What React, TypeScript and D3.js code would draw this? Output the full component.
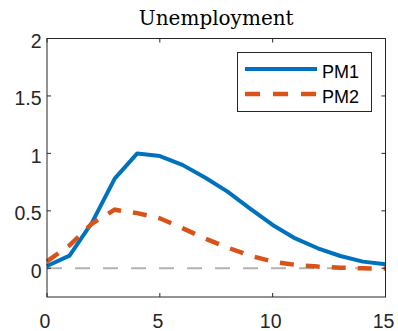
import React from "react";
import * as d3 from "d3";

const periods = [0, 1, 2, 3, 4, 5, 6, 7, 8, 9, 10, 11, 12, 13, 14, 15];
const pm1 = [0.02, 0.11, 0.4, 0.78, 1.0, 0.977, 0.9, 0.79, 0.667, 0.52, 0.377, 0.26, 0.174, 0.107, 0.058, 0.035];
const pm2 = [0.06, 0.2, 0.39, 0.51, 0.48, 0.435, 0.35, 0.26, 0.18, 0.11, 0.058, 0.03, 0.015, 0.005, 0.0, -0.003];
const xTicks = [0, 5, 10, 15];
const yTicks = [0, 0.5, 1, 1.5, 2];
const seriesNames = ["PM1", "PM2"];

const W = 398;
const H = 331;
const m = { left: 47, right: 385.5, top: 38.5, bottom: 297 };

export default function App() {
  const x = d3.scaleLinear().domain([0, 15]).range([m.left, m.right]);
  const y = d3.scaleLinear().domain([-0.25, 2]).range([m.bottom, m.top]);
  const line = d3
    .line<number>()
    .x((_, i) => x(periods[i]))
    .y((d) => y(d));

  const axisColor = "#262626";
  const font = "'Liberation Sans', Arial, sans-serif";

  return (
    <svg
      width={W}
      height={H}
      style={{ position: "absolute", left: 0, top: 0, background: "#fff" }}
    >
      <text
        x={(m.left + m.right) / 2}
        y={25}
        textAnchor="middle"
        fontFamily="'DejaVu Serif', 'Liberation Serif', serif"
        fontSize={20}
        fill="#000"
      >
        Unemployment
      </text>

      {/* zero reference line */}
      <line
        x1={x(0)}
        x2={x(15)}
        y1={y(0)}
        y2={y(0)}
        stroke="#b3b3b3"
        strokeWidth={2}
        strokeDasharray="15,13"
      />

      <path d={line(pm1) || ""} fill="none" stroke="#0072BD" strokeWidth={4} strokeLinejoin="round" />
      <path
        d={line(pm2) || ""}
        fill="none"
        stroke="#D95319"
        strokeWidth={4.5}
        strokeDasharray="14,12"
      />

      {/* axes box */}
      <rect
        x={m.left}
        y={m.top}
        width={m.right - m.left}
        height={m.bottom - m.top}
        fill="none"
        stroke={axisColor}
        strokeWidth={1}
      />

      {xTicks.map((t) => (
        <g key={"x" + t}>
          <line x1={x(t)} x2={x(t)} y1={m.bottom} y2={m.bottom - 4} stroke={axisColor} />
          <line x1={x(t)} x2={x(t)} y1={m.top} y2={m.top + 4} stroke={axisColor} />
          <text
            x={x(t) - 2}
            y={327.5}
            textAnchor="middle"
            fontFamily={font}
            fontSize={19.5}
            fill={axisColor}
          >
            {t}
          </text>
        </g>
      ))}

      {yTicks.map((t) => (
        <g key={"y" + t}>
          <line x1={m.left} x2={m.left + 4} y1={y(t)} y2={y(t)} stroke={axisColor} />
          <line x1={m.right} x2={m.right - 4} y1={y(t)} y2={y(t)} stroke={axisColor} />
          <text
            x={41.5}
            y={y(t) + 9.5}
            textAnchor="end"
            fontFamily={font}
            fontSize={19.5}
            fill={axisColor}
          >
            {t}
          </text>
        </g>
      ))}

      {/* legend */}
      <rect x={237.5} y={52.5} width={134} height={59} fill="#fff" stroke={axisColor} strokeWidth={1} />
      <line x1={245} x2={317} y1={69} y2={69} stroke="#0072BD" strokeWidth={4} />
      <line x1={245} x2={317} y1={94} y2={94} stroke="#D95319" strokeWidth={4.5} strokeDasharray="15,13" />
      <text x={322} y={78} fontFamily={font} fontSize={18} fill="#000">
        {seriesNames[0]}
      </text>
      <text x={322} y={103} fontFamily={font} fontSize={18} fill="#000">
        {seriesNames[1]}
      </text>
    </svg>
  );
}
